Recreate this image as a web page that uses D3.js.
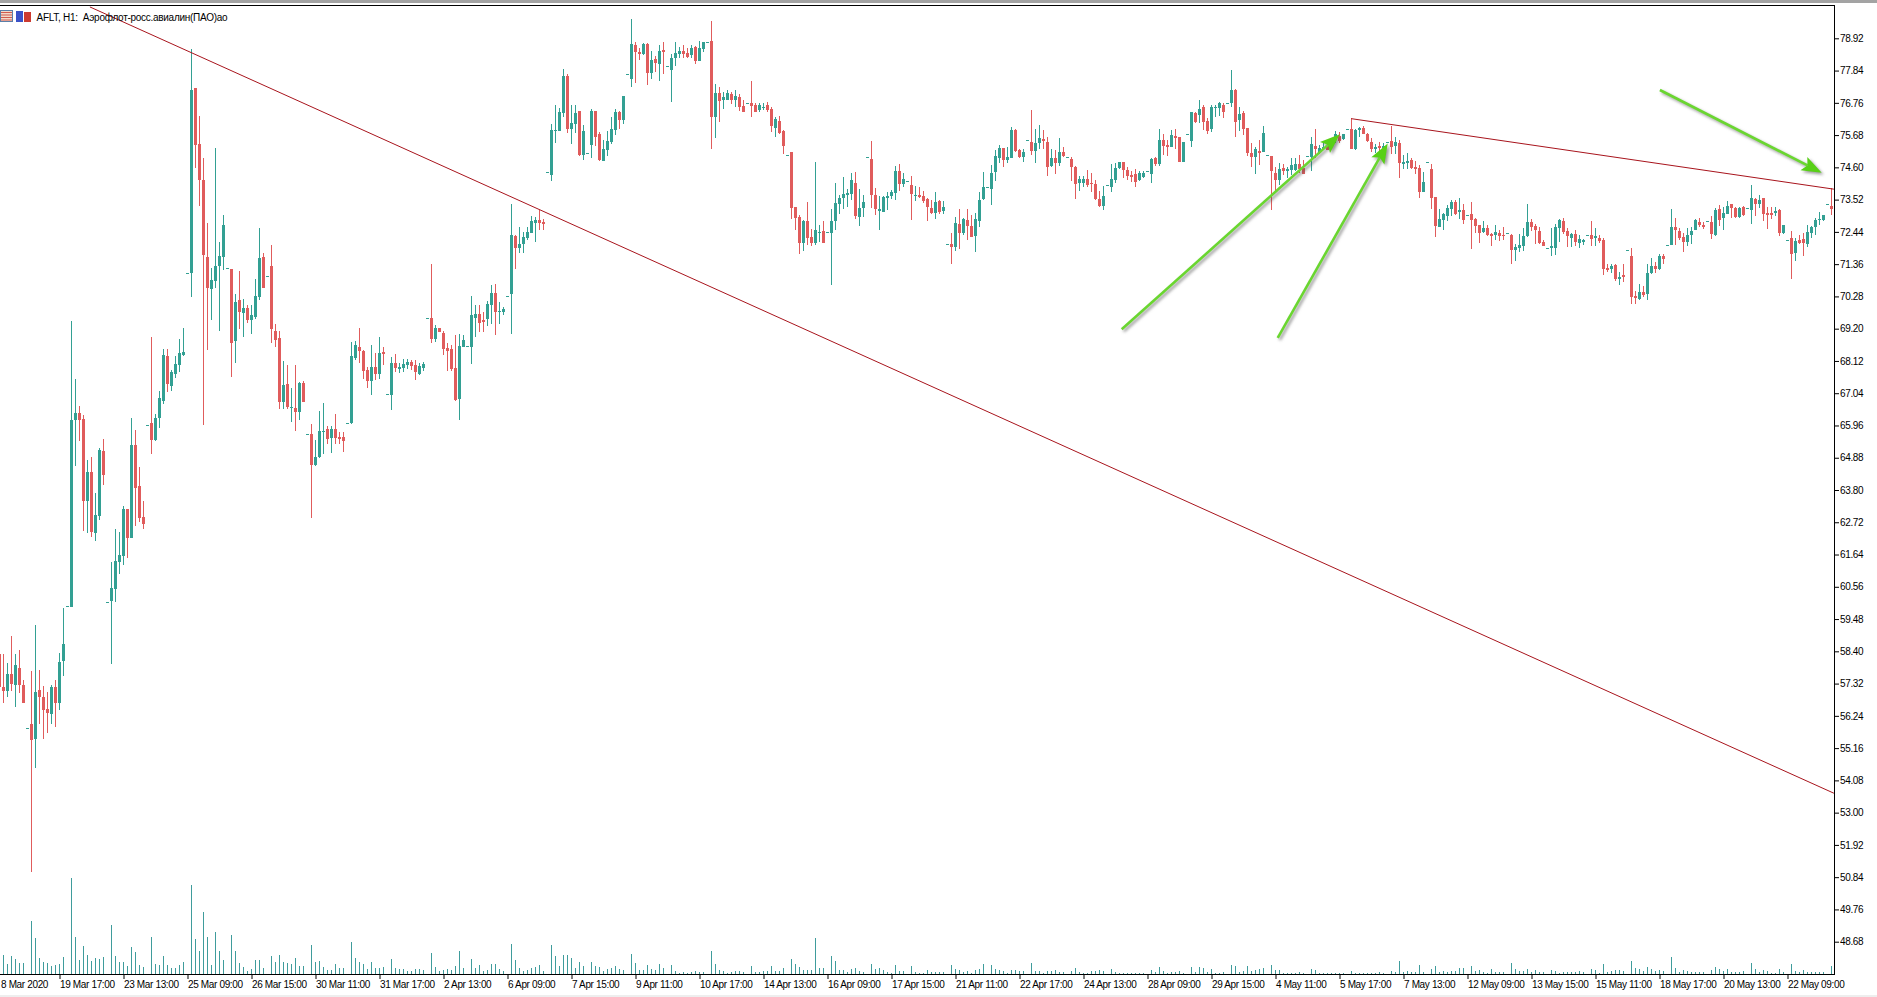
<!DOCTYPE html>
<html>
<head>
<meta charset="utf-8">
<title>AFLT H1</title>
<script src="https://cdn.jsdelivr.net/npm/d3@7"></script>
<style>
  html, body { margin: 0; padding: 0; background: #fff; overflow: hidden; }
  svg { display: block; }
  text { font-family: "Liberation Sans", Arial, sans-serif; fill: #000; }
  .axis text { font-size: 10px; letter-spacing: -0.35px; }
  .axis line { stroke: #000; }
  .axis .domain { display: none; }
</style>
</head>
<body>
<div id="chart"></div>
<script>
// hourly bars, one row per trading session (9 bars + the opening dash)
const opens = [
  58.32,57.19,57.07,57.63,57.27,57.83,57.26,55.85,
  55.96,55.47,57.10,56.86,56.46,56.29,57.20,56.66,58.07,59.92,
  59.89,66.14,66.38,66.18,63.43,64.40,62.36,62.93,65.10,60.04,
  60.08,60.48,61.39,61.59,63.16,62.19,65.31,63.93,62.89,65.98,
  66.04,65.47,66.21,66.78,68.29,67.28,67.68,67.98,68.32,71.08,
  71.08,77.24,75.38,74.17,71.60,70.52,70.79,71.30,71.60,71.22,
  71.19,68.78,70.16,69.72,69.89,69.49,69.59,70.26,71.60,70.98,
  71.30,69.12,68.88,66.74,67.34,66.58,66.56,66.41,67.38,65.66,
  65.67,64.63,64.90,65.76,65.84,65.54,65.84,65.58,65.57,66.03,
  66.04,68.21,68.58,68.45,67.81,67.44,67.91,67.68,68.42,67.00,
  66.98,68.05,67.85,67.88,67.98,68.08,67.98,67.68,67.88,69.55,
  69.55,68.85,69.22,69.05,68.55,68.52,67.88,66.84,68.59,68.62,
  68.58,69.55,69.69,69.49,69.52,69.99,70.39,69.79,69.76,70.28,
  70.36,72.30,71.90,72.03,72.23,72.40,72.73,72.84,72.77,74.43,
  74.34,75.84,75.81,76.42,77.66,75.88,76.05,76.48,75.01,75.07,
  75.35,76.48,75.71,74.81,75.18,75.45,75.85,76.45,76.18,77.71,
  77.55,78.69,78.46,78.39,78.73,77.75,78.22,78.06,78.53,77.98,
  77.86,78.26,78.39,78.49,78.43,78.36,78.63,78.16,78.56,78.78,
  78.83,76.28,77.09,76.85,76.87,77.05,76.85,76.94,76.65,76.74,
  76.75,76.68,76.52,76.63,76.68,76.56,75.91,76.15,75.81,75.03,
  75.10,73.27,72.94,72.07,72.80,72.27,72.07,72.43,72.47,72.42,
  72.40,72.80,73.37,73.57,73.67,73.70,74.07,72.93,73.24,74.93,
  74.88,73.67,73.14,73.10,73.57,73.64,73.74,74.47,74.04,74.16,
  74.01,73.69,73.67,73.64,73.54,73.24,73.07,73.47,73.14,72.02,
  72.02,71.93,72.70,72.40,72.83,72.63,72.30,72.80,73.54,73.95,
  73.87,74.44,74.91,75.24,74.84,74.91,75.85,75.18,74.94,75.50,
  75.45,75.14,75.41,75.55,75.45,74.64,74.91,74.74,75.11,74.95,
  74.88,74.61,74.07,74.07,74.21,74.06,74.04,73.54,73.30,74.00,
  73.94,74.17,74.57,74.78,74.51,74.34,74.37,74.17,74.27,74.47,
  74.37,74.91,74.71,75.51,75.35,75.28,75.65,75.61,74.78,75.70,
  75.48,76.42,76.35,76.62,76.15,75.88,76.62,76.58,76.68,76.76,
  76.75,77.19,76.18,76.42,75.91,75.08,74.94,75.14,75.11,75.01,
  74.98,74.41,74.17,74.57,74.47,74.51,74.51,74.71,74.57,74.99,
  74.94,75.31,75.07,75.20,75.31,75.35,75.58,75.65,75.55,75.90,
  75.89,75.23,75.85,75.92,75.71,75.45,75.21,75.31,75.24,75.46,
  75.48,75.31,75.40,74.71,74.73,74.84,74.61,74.58,73.77,74.77,
  74.54,73.60,72.60,72.84,72.97,73.20,73.44,73.10,73.17,72.99,
  73.04,72.87,72.67,72.43,72.57,72.37,72.33,72.40,72.33,72.39,
  72.33,71.83,71.90,71.96,72.30,72.77,72.63,72.47,72.10,71.89,
  71.89,71.90,72.57,72.80,72.47,72.23,72.37,72.07,72.10,72.33,
  72.33,72.22,72.23,72.17,71.23,71.19,71.33,70.86,70.99,71.82,
  71.63,70.29,70.19,70.42,70.36,71.06,71.30,71.19,71.63,71.99,
  72.00,72.60,72.47,72.27,72.10,72.33,72.50,72.77,72.67,72.82,
  72.77,72.33,73.20,72.90,73.04,73.37,73.24,72.93,73.27,73.25,
  73.17,73.54,73.37,73.57,73.07,73.07,73.07,73.18,72.40,72.17,
  72.23,71.73,72.17,72.20,72.03,72.40,72.60,72.84,72.84,73.36,
  73.30
];

const closes = [
  57.21,57.06,57.63,57.30,57.93,57.27,56.67,55.85,
  55.42,57.03,56.86,56.43,56.33,57.21,56.66,58.03,58.63,59.92,
  66.14,66.38,66.14,63.43,64.40,62.39,62.96,65.14,64.30,60.04,
  60.52,61.42,61.62,63.16,62.19,65.31,63.87,62.86,62.66,65.98,
  65.47,66.21,66.88,68.32,67.35,67.75,68.02,68.39,68.42,71.08,
  77.19,75.35,74.17,71.66,70.56,70.83,71.30,71.63,72.67,71.22,
  68.73,70.09,69.76,69.89,69.49,69.65,70.29,71.56,70.56,70.98,
  69.19,68.82,66.74,67.31,66.57,66.58,66.41,67.38,66.74,65.66,
  64.63,64.90,65.77,65.76,65.50,65.84,65.54,65.50,65.44,66.03,
  68.28,68.65,68.45,67.78,67.44,67.91,67.68,68.38,68.35,67.00,
  68.05,67.87,67.91,68.01,68.08,67.95,67.75,67.95,68.01,69.55,
  68.85,69.22,69.09,68.52,68.45,67.85,66.81,68.62,68.82,68.62,
  69.65,69.69,69.39,69.42,70.02,70.38,69.76,69.79,69.86,70.28,
  72.33,71.90,72.03,72.27,72.43,72.80,72.84,72.73,72.70,74.43,
  75.85,75.84,76.45,77.66,75.88,76.08,76.42,75.01,75.81,75.07,
  76.48,75.61,74.84,75.21,75.48,75.88,76.45,76.18,76.99,77.71,
  78.73,78.46,78.39,78.73,77.75,78.19,78.09,78.49,78.46,77.98,
  78.26,78.43,78.49,78.39,78.29,78.59,78.16,78.59,78.79,78.78,
  76.28,77.09,76.82,76.95,77.09,76.85,76.99,76.61,76.45,76.74,
  76.65,76.45,76.68,76.63,76.52,75.98,76.22,75.75,75.31,75.03,
  73.24,72.90,72.07,72.80,72.23,72.07,72.50,72.43,72.07,72.42,
  72.80,73.40,73.57,73.70,73.74,74.17,72.97,73.24,73.44,74.93,
  73.67,73.20,73.20,73.60,73.64,73.77,74.47,74.04,74.21,74.16,
  73.70,73.69,73.60,73.47,73.27,73.07,73.44,73.10,73.27,72.02,
  71.93,72.73,72.40,72.87,72.63,72.27,72.87,73.50,73.94,73.95,
  74.41,74.98,75.24,74.84,74.94,75.85,75.14,74.94,75.11,75.50,
  75.14,75.41,75.58,75.48,74.61,74.91,74.74,75.11,74.98,74.95,
  74.61,74.04,74.21,74.21,74.00,74.03,73.54,73.30,73.64,74.00,
  74.21,74.57,74.78,74.51,74.31,74.27,74.11,74.41,74.41,74.47,
  74.88,74.71,75.51,75.31,75.28,75.68,75.58,74.78,75.45,75.70,
  76.45,76.11,76.55,76.11,75.81,76.62,76.62,76.75,76.45,76.76,
  77.19,76.11,76.38,75.88,75.08,74.94,75.21,75.08,75.75,75.01,
  74.47,74.17,74.54,74.47,74.54,74.68,74.71,74.54,74.37,74.99,
  75.38,75.23,75.24,75.29,75.18,75.27,75.71,75.48,75.71,75.90,
  75.23,75.85,75.91,75.71,75.48,75.21,75.27,75.24,75.31,75.46,
  75.28,75.45,74.73,74.78,74.81,74.58,74.54,73.77,74.11,74.77,
  73.57,72.63,72.87,73.04,73.24,73.44,73.04,73.17,72.84,72.99,
  72.84,72.63,72.40,72.57,72.33,72.30,72.43,72.30,72.30,72.39,
  71.83,71.93,72.00,72.30,72.77,72.60,72.50,72.07,71.96,71.89,
  71.96,72.60,72.84,72.43,72.30,72.37,72.10,72.20,72.17,72.33,
  72.20,72.30,72.13,71.19,71.16,71.30,70.86,70.93,70.93,71.82,
  70.26,70.22,70.42,70.32,71.08,71.30,71.19,71.63,71.53,71.99,
  72.60,72.50,72.23,72.10,72.33,72.47,72.84,72.67,72.60,72.82,
  72.37,73.17,72.84,73.07,73.30,73.24,72.93,73.24,73.00,73.25,
  73.57,73.37,73.50,73.04,73.00,73.00,73.14,72.40,72.67,72.17,
  71.70,72.13,72.08,72.07,72.43,72.60,72.84,72.87,73.00,73.36,
  73.20
];

const highs = [
  58.83,58.30,58.01,58.90,58.30,58.44,57.45,55.85,
  57.73,59.27,57.79,57.23,57.03,57.26,57.43,58.34,59.85,59.92,
  69.46,67.52,66.61,66.31,64.80,64.90,63.70,65.20,65.51,60.04,
  61.39,62.49,62.39,63.26,63.16,66.21,65.81,64.57,63.43,65.98,
  68.92,66.34,67.11,68.52,68.52,67.82,68.29,68.85,69.22,71.08,
  78.55,77.24,76.32,74.90,72.75,71.24,75.25,72.09,72.99,71.22,
  71.21,70.35,71.13,70.18,69.99,69.99,70.86,72.57,71.72,70.98,
  72.00,69.37,69.12,68.11,68.00,67.20,67.98,67.42,67.44,65.66,
  66.00,65.49,66.45,66.70,65.94,65.94,66.36,65.74,65.74,66.03,
  68.75,68.78,69.21,68.48,67.92,68.65,68.37,68.91,68.59,67.00,
  68.24,68.34,68.04,68.20,68.20,68.15,68.15,68.04,68.09,69.55,
  71.38,69.32,69.23,69.12,68.71,68.65,68.98,69.01,68.98,68.62,
  70.29,69.99,69.99,69.77,70.12,70.65,70.69,70.10,69.93,70.28,
  73.37,72.33,72.61,72.44,72.61,72.97,72.95,73.17,72.87,74.43,
  76.05,76.68,76.58,77.89,77.72,76.68,76.68,76.48,76.01,75.07,
  76.57,76.48,75.79,75.51,75.81,76.27,76.55,76.48,76.99,77.71,
  79.56,78.79,78.61,78.75,78.75,78.49,78.33,78.69,78.79,77.98,
  78.39,78.79,78.64,78.69,78.61,78.69,78.66,78.83,78.80,78.78,
  79.50,77.39,77.28,77.12,77.19,77.13,77.19,77.07,76.85,76.74,
  77.49,76.74,76.74,76.74,76.78,76.63,76.27,76.32,75.85,75.03,
  75.10,73.27,73.00,72.83,73.44,72.53,74.78,72.67,72.80,72.42,
  73.22,74.07,73.66,74.27,73.89,74.40,74.43,73.89,73.69,74.93,
  75.48,73.90,73.63,73.64,73.79,73.83,74.64,74.70,74.40,74.16,
  74.31,73.97,73.95,73.80,73.56,73.50,73.77,73.50,73.48,72.02,
  72.39,72.95,73.22,72.89,73.22,73.00,73.06,73.79,74.43,73.95,
  74.68,75.18,75.35,75.26,75.29,75.96,75.87,75.23,75.23,75.50,
  76.52,75.87,76.01,75.85,75.60,75.23,75.18,75.57,75.27,74.95,
  74.95,74.66,74.31,74.31,74.51,74.42,74.17,73.82,73.97,74.00,
  74.71,74.73,74.79,74.79,74.60,74.49,74.56,74.49,74.49,74.47,
  74.92,74.95,75.90,75.73,75.51,75.85,75.90,75.62,75.45,75.70,
  76.46,76.44,76.87,76.68,76.24,76.68,76.68,76.79,76.74,76.76,
  77.86,77.22,76.63,76.48,75.91,75.40,75.27,75.51,75.98,75.01,
  74.98,74.62,74.75,74.71,74.62,74.90,74.91,75.01,74.84,74.99,
  75.60,75.87,75.35,75.46,75.49,75.46,75.83,75.79,75.71,75.90,
  76.24,75.90,75.96,75.98,75.74,75.57,75.38,75.46,75.42,75.46,
  75.98,75.60,75.51,75.01,75.07,74.90,74.82,74.68,74.45,74.77,
  74.71,73.60,73.19,73.06,73.34,73.50,73.50,73.59,73.39,72.99,
  73.44,72.92,72.67,72.80,72.67,72.39,72.67,72.50,72.59,72.39,
  72.37,72.05,72.37,72.56,73.37,72.87,72.70,72.59,72.17,71.89,
  72.57,72.70,72.87,72.89,72.56,72.41,72.50,72.35,72.19,72.33,
  72.79,72.56,72.33,72.22,71.38,71.38,71.35,71.10,71.38,71.82,
  71.89,70.47,70.69,70.63,71.38,71.56,71.44,71.70,71.70,71.99,
  73.19,72.92,72.57,72.41,72.56,72.59,72.86,72.89,72.76,72.82,
  72.97,73.23,73.34,73.28,73.47,73.39,73.26,73.28,73.30,73.25,
  74.01,73.59,73.67,73.58,73.26,73.28,73.26,73.19,72.67,72.17,
  72.47,72.23,72.33,72.39,72.67,72.63,72.92,73.09,73.00,73.36,
  73.90
];

const lows = [
  57.15,56.67,56.87,57.07,56.54,57.01,56.67,55.85,
  51.01,54.50,55.96,55.47,55.67,55.96,55.87,56.43,57.58,59.92,
  59.89,64.61,65.44,62.43,62.36,62.22,62.09,62.79,63.97,60.04,
  57.97,60.05,60.99,61.29,61.52,62.19,62.59,62.73,62.49,65.98,
  65.00,65.44,65.87,66.68,67.08,67.11,67.55,67.75,68.29,71.08,
  70.27,74.59,73.31,65.97,68.48,69.49,70.55,69.13,71.16,71.22,
  67.59,68.06,69.19,68.92,69.39,69.02,69.54,70.16,70.56,70.98,
  68.73,68.59,66.52,66.52,66.50,66.08,65.78,66.14,66.74,65.66,
  62.86,64.60,64.87,65.02,65.33,65.05,65.33,65.33,65.08,66.03,
  66.02,68.15,68.04,67.53,67.20,66.98,67.48,67.53,67.98,67.00,
  66.47,67.76,67.70,67.76,67.84,67.81,67.48,67.65,67.79,69.55,
  68.71,68.76,69.09,68.31,67.79,67.79,66.77,66.14,68.59,68.62,
  68.01,68.93,69.09,69.10,69.29,69.37,68.98,69.35,69.65,70.28,
  69.02,71.20,71.72,71.74,72.16,72.39,72.10,72.50,72.50,74.43,
  74.14,75.42,75.81,76.29,75.76,75.38,75.74,74.98,74.84,75.07,
  74.90,75.31,74.81,74.81,74.98,75.37,75.68,75.90,76.05,77.71,
  77.30,77.42,78.19,78.36,77.37,77.55,77.78,77.50,77.72,77.98,
  76.80,77.99,78.25,78.25,78.27,78.25,78.06,78.16,78.47,78.78,
  75.21,75.58,76.11,76.55,76.85,76.72,76.63,76.48,76.45,76.74,
  76.28,76.45,76.45,76.52,76.45,75.79,75.61,75.71,75.04,75.03,
  72.87,72.50,71.70,71.80,72.00,71.96,72.00,72.11,72.07,72.42,
  70.66,72.50,73.03,73.20,73.28,73.50,72.87,72.63,72.95,74.93,
  73.24,73.00,72.50,73.10,73.17,73.53,73.50,73.80,73.95,74.16,
  72.83,73.48,73.56,73.41,72.81,73.03,72.87,73.03,73.03,72.02,
  71.36,71.80,71.87,72.33,72.16,72.27,71.77,72.61,73.50,73.95,
  73.34,74.14,74.73,74.60,74.73,74.90,75.12,74.92,74.79,75.50,
  75.01,74.75,75.23,75.23,74.31,74.62,74.37,74.64,74.95,74.95,
  74.14,73.54,73.82,73.95,73.95,73.78,73.50,73.26,73.17,74.00,
  73.77,74.09,74.55,74.23,74.19,74.12,73.95,74.14,74.23,74.47,
  74.08,74.64,74.66,75.01,74.98,75.27,75.23,74.78,74.78,75.70,
  75.29,76.07,76.07,75.85,75.70,75.78,76.27,76.32,76.24,76.76,
  76.63,75.62,75.82,75.68,74.98,74.62,74.37,74.68,75.11,75.01,
  73.17,73.73,74.00,74.34,74.23,74.34,74.49,74.40,74.37,74.99,
  74.49,74.90,75.04,75.18,75.18,75.23,75.40,75.40,75.51,75.90,
  75.20,75.18,75.62,75.71,75.46,75.11,75.07,75.07,75.20,75.46,
  75.04,75.04,74.26,74.55,74.56,74.56,74.39,73.57,73.77,74.77,
  73.20,72.28,72.60,72.50,72.81,72.97,73.00,72.86,72.70,72.99,
  71.86,72.39,72.08,72.39,72.30,71.96,72.17,72.14,72.17,72.39,
  71.37,71.46,71.75,71.81,72.28,72.48,72.03,72.03,71.96,71.89,
  71.63,71.67,72.09,72.37,71.94,71.94,71.96,71.90,71.99,72.33,
  71.97,71.97,72.08,70.99,71.09,71.08,70.80,70.66,70.77,71.82,
  70.02,70.02,70.16,70.27,70.16,71.03,71.05,71.16,71.38,71.99,
  71.99,72.00,72.17,71.77,71.96,72.05,72.50,72.59,72.52,72.82,
  72.19,72.30,72.63,72.50,73.04,72.92,72.91,72.92,72.98,73.25,
  72.70,72.97,73.23,72.81,72.53,72.88,72.97,72.30,72.38,72.17,
  70.86,71.46,72.03,71.63,71.94,72.25,72.35,72.67,72.80,73.36,
  73.00
];

// tick volume, estimated, in hundreds
const volumes = [
  0,19,10,18,15,11,11,0,
  53,36,16,12,11,8,9,10,17,0,
  96,37,14,28,19,13,16,15,17,0,
  49,18,12,12,8,27,22,9,7,0,
  37,10,9,18,9,6,6,9,12,0,
  89,35,23,62,37,9,42,23,14,0,
  39,23,11,7,3,5,14,14,6,0,
  18,12,19,12,11,10,16,8,8,0,
  29,12,13,7,4,4,10,6,6,0,
  32,16,12,10,5,12,6,6,7,0,
  15,6,5,5,3,3,5,5,4,0,
  21,7,3,4,5,4,8,23,6,0,
  15,6,9,3,4,10,10,5,3,0,
  30,14,6,3,4,6,7,9,3,0,
  29,18,8,19,19,16,6,12,8,0,
  12,8,7,3,5,6,8,5,4,0,
  20,11,4,4,9,5,4,10,6,0,
  9,3,1,2,1,2,3,2,2,0,
  23,10,4,3,1,2,3,3,2,0,
  8,2,2,3,3,8,3,3,6,0,
  15,10,7,4,4,4,36,6,6,0,
  18,13,4,4,2,5,6,3,2,0,
  10,5,6,4,2,1,9,3,3,0,
  8,2,1,1,4,2,2,2,2,0,
  9,5,4,2,3,1,4,5,10,0,
  9,5,4,3,1,4,4,3,3,0,
  11,3,3,1,3,3,4,2,2,0,
  3,6,2,1,1,3,3,4,3,0,
  5,2,1,1,1,1,1,1,1,0,
  4,2,7,3,1,2,2,3,1,0,
  7,2,7,6,2,5,1,1,2,0,
  9,8,2,3,8,3,4,5,6,0,
  9,4,4,1,1,1,1,2,1,0,
  5,4,1,1,1,1,1,1,1,0,
  3,1,1,1,1,1,1,2,1,0,
  3,2,13,2,3,2,2,9,2,0,
  5,8,2,3,2,3,3,6,6,0,
  8,3,4,2,1,5,2,2,2,0,
  11,5,3,3,5,2,4,2,2,0,
  4,3,1,2,2,2,2,3,2,0,
  5,4,1,10,2,3,4,4,3,0,
  13,6,5,3,7,5,3,4,3,0,
  17,6,2,4,3,2,2,2,2,0,
  4,7,5,3,5,2,2,2,3,0,
  11,5,2,4,3,1,1,5,2,0,
  10,3,2,4,2,2,2,2,2,0,
  8
];

const priceTicks = [
  78.92,77.84,76.76,75.68,74.60,73.52,72.44,71.36,70.28,69.20,
  68.12,67.04,65.96,64.88,63.80,62.72,61.64,60.56,59.48,58.40,
  57.32,56.24,55.16,54.08,53.00,51.92,50.84,49.76,48.68
];

// the first label sits half off the window in the reference, only "8 Mar 2020" shows
const timeLabels = [
  "8 Mar 2020","19 Mar 17:00","23 Mar 13:00","25 Mar 09:00","26 Mar 15:00","30 Mar 11:00",
  "31 Mar 17:00","2 Apr 13:00","6 Apr 09:00","7 Apr 15:00","9 Apr 11:00","10 Apr 17:00",
  "14 Apr 13:00","16 Apr 09:00","17 Apr 15:00","21 Apr 11:00","22 Apr 17:00","24 Apr 13:00",
  "28 Apr 09:00","29 Apr 15:00","4 May 11:00","5 May 17:00","7 May 13:00","12 May 09:00",
  "13 May 15:00","15 May 11:00","18 May 17:00","20 May 13:00","22 May 09:00"
];
const labelEvery = 16;
const firstLabelBar = -1;

// hand drawn objects, [bar index, price] at each end
const trendLines = [
  [[22.6, 79.97], [458.6, 53.65]],
  [[337.95, 76.23], [458.6, 73.87]]
];
const arrows = [
  [[280.55, 69.18], [335.1, 75.71]],
  [[319.55, 68.89], [347.05, 75.40]],
  [[415.1, 77.19], [455.55, 74.42]]
];

const title = "AFLT, H1:  Аэрофлот-росс.авиалин(ПАО)ао";

const width = 1877, height = 997;
const plotRight = 1834, plotTop = 6, plotBottom = 974;
const upColor = "#33a093", downColor = "#e05c5c", volColor = "#3f9c9c";
const lineColor = "#a8141c", arrowColor = "#6ad630";

const svg = d3.select("#chart").append("svg").attr("width", width).attr("height", height);

const x = d3.scaleLinear().domain([0, opens.length - 1]).range([-0.5, 1831.5]);
const y = d3.scaleLinear().domain([78.92, 48.68]).range([38.3, 941.7]);
const yVol = d3.scaleLinear().domain([0, 96]).range([plotBottom, 878]);

function drawChrome() {
    svg.append("rect").attr("width", width).attr("height", 3).attr("fill", "#a3a3a3");
    svg.append("rect").attr("y", 995).attr("width", width).attr("height", 2).attr("fill", "#eeeeee");
}

function drawVolumes(plot) {
    plot.append("g").selectAll("rect").data(volumes).join("rect")
        .attr("x", (d, i) => x(i) - 0.5)
        .attr("y", d => Math.round(yVol(d)))
        .attr("width", 1)
        .attr("height", d => plotBottom - Math.round(yVol(d)))
        .attr("fill", volColor);
}

function drawCandles(plot) {
    const bars = opens.map((o, i) => ({ i, o, c: closes[i], h: highs[i], l: lows[i] }));
    const color = d => d.c >= d.o ? upColor : downColor;
    const g = plot.append("g");

    // wicks
    g.selectAll(".wick").data(bars.filter(d => d.h > d.l)).join("rect")
        .attr("class", "wick")
        .attr("x", d => x(d.i) - 0.5)
        .attr("y", d => Math.round(y(d.h)))
        .attr("width", 1)
        .attr("height", d => Math.max(1, Math.round(y(d.l)) - Math.round(y(d.h))))
        .attr("fill", color);

    // bodies
    g.selectAll(".body").data(bars).join("rect")
        .attr("class", "body")
        .attr("x", d => x(d.i) - 1.5)
        .attr("y", d => Math.round(y(Math.max(d.o, d.c))))
        .attr("width", 3)
        .attr("height", d => Math.max(1, Math.round(y(Math.min(d.o, d.c))) - Math.round(y(Math.max(d.o, d.c)))))
        .attr("fill", color);
}

function drawTrendLines(plot) {
    const line = d3.line().x(d => x(d[0])).y(d => y(d[1]));
    plot.append("g").selectAll("path").data(trendLines).join("path")
        .attr("d", line)
        .attr("fill", "none")
        .attr("stroke", lineColor)
        .attr("stroke-width", 1);
}

function drawArrows() {
    const g = svg.append("g").style("filter", "drop-shadow(2px 2px 1.5px rgba(70,70,70,0.55))");
    arrows.forEach(a => {
        const x0 = x(a[0][0]), y0 = y(a[0][1]), x1 = x(a[1][0]), y1 = y(a[1][1]);
        const len = Math.hypot(x1 - x0, y1 - y0);
        const ux = (x1 - x0) / len, uy = (y1 - y0) / len;
        const headLen = 20, headHalf = 7.5;
        const bx = x1 - ux * headLen, by = y1 - uy * headLen;

        g.append("line")
            .attr("x1", x0).attr("y1", y0).attr("x2", bx + ux * 4).attr("y2", by + uy * 4)
            .attr("stroke", arrowColor).attr("stroke-width", 2.6);

        const head = d3.path();
        head.moveTo(x1, y1);
        head.lineTo(bx - uy * headHalf, by + ux * headHalf);
        head.lineTo(bx + ux * 4, by + uy * 4);
        head.lineTo(bx + uy * headHalf, by - ux * headHalf);
        head.closePath();
        g.append("path").attr("d", head.toString()).attr("fill", "#58d016");
    });
}

function drawAxes() {
    svg.append("g").attr("class", "axis")
        .attr("transform", `translate(${plotRight},0)`)
        .call(d3.axisRight(y).tickValues(priceTicks).tickFormat(d3.format(".2f")).tickSize(5).tickPadding(1));

    const xAxis = svg.append("g").attr("class", "axis")
        .attr("transform", `translate(0,${plotBottom})`)
        .call(d3.axisBottom(x)
            .tickValues(timeLabels.map((d, n) => firstLabelBar + n * labelEvery))
            .tickFormat((d, n) => timeLabels[n])
            .tickSize(5).tickPadding(2));
    xAxis.selectAll("text")
        .attr("text-anchor", "start")
        .attr("dx", (d, n) => n === 0 ? 5 : 0);

    // frame
    svg.append("rect").attr("y", plotTop - 1).attr("width", plotRight + 1).attr("height", 1).attr("fill", "#000");
    svg.append("rect").attr("x", plotRight).attr("y", plotTop - 1).attr("width", 1).attr("height", plotBottom - plotTop + 2).attr("fill", "#000");
    svg.append("rect").attr("y", plotBottom).attr("width", plotRight + 1).attr("height", 1).attr("fill", "#000");
}

function drawHeader() {
    const head = svg.append("g");
    // the two little toolbar icons next to the symbol name
    head.append("rect").attr("x", 0.5).attr("y", 10.5).attr("width", 12).attr("height", 11).attr("fill", "#f2d9c8").attr("stroke", "#5b7fa8");
    d3.range(4).forEach(n => head.append("rect").attr("x", 1).attr("y", 12 + n * 2.5).attr("width", 11).attr("height", 1).attr("fill", "#d05a50"));
    head.append("rect").attr("x", 16).attr("y", 11).attr("width", 7).attr("height", 11).attr("fill", "#3a52c8");
    head.append("rect").attr("x", 24).attr("y", 12).attr("width", 7).attr("height", 10).attr("fill", "#cc3a30");
    head.append("text").attr("x", 36.5).attr("y", 20.5)
        .attr("font-size", 10).attr("letter-spacing", "-0.28px")
        .attr("xml:space", "preserve").style("white-space", "pre")
        .text(title);
}

function drawChart() {
    svg.append("defs").append("clipPath").attr("id", "plot-clip")
        .append("rect").attr("y", plotTop).attr("width", plotRight).attr("height", plotBottom - plotTop);

    drawChrome();
    const plot = svg.append("g").attr("clip-path", "url(#plot-clip)");
    drawVolumes(plot);
    drawCandles(plot);
    drawTrendLines(plot);
    drawArrows();
    drawAxes();
    drawHeader();
}

drawChart();
</script>
</body>
</html>
